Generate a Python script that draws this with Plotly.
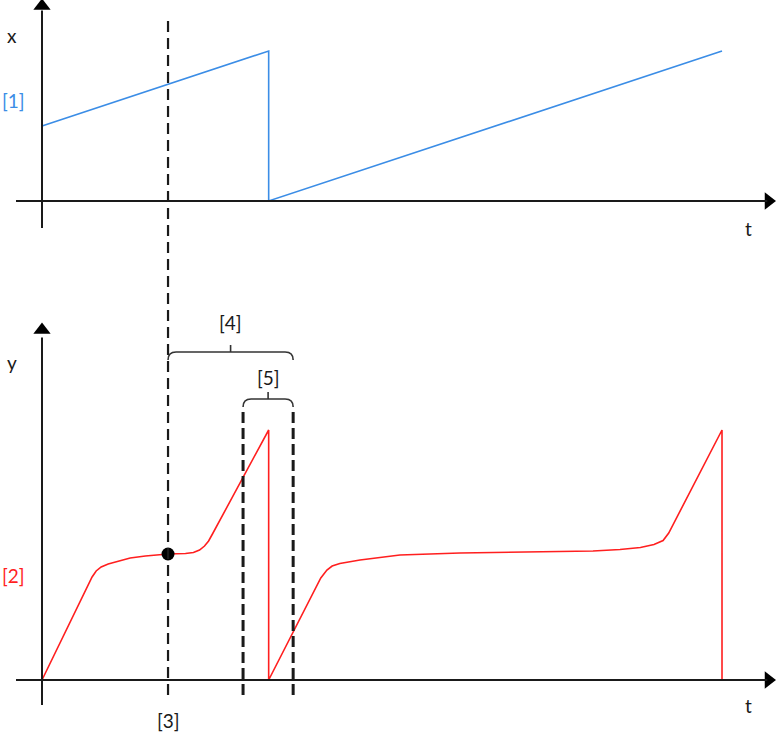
import plotly.graph_objects as go

# ---------------- data ----------------
# top panel: sawtooth x(t)
t_top = [0.0, 1.0, 1.0, 3.0]
x_top = [0.5, 1.0, 0.0, 1.0]

# bottom panel: response y(t)
t_bot = [0.0, 0.221, 0.239, 0.261, 0.292, 0.336, 0.389, 0.456, 0.556, 0.633, 0.668,
         0.695, 0.717, 0.735, 0.752, 1.0, 1.0,
         1.230, 1.257, 1.280, 1.314, 1.403, 1.579, 1.844, 2.285, 2.431,
         2.550, 2.640, 2.700, 2.740, 2.765, 3.0, 3.0]
y_bot = [0.0, 0.412, 0.436, 0.452, 0.464, 0.476, 0.488, 0.496, 0.504, 0.506, 0.510,
         0.520, 0.536, 0.556, 0.584, 1.0, 0.0,
         0.408, 0.440, 0.456, 0.466, 0.480, 0.500, 0.508, 0.512, 0.516,
         0.522, 0.530, 0.542, 0.558, 0.588, 1.0, 0.0]

t_sample = 0.556
y_sample = 0.504
t_win = [0.887, 1.108]

labels = {"x": "x", "y": "y", "t": "t", "s1": "[1]", "s2": "[2]",
          "m3": "[3]", "m4": "[4]", "m5": "[5]"}

BLUE = "#3b8de6"
RED = "#ff1f1f"
INK = "#1a1a1a"
FONT = "Lato"

# pixel scales (for styling offsets only)
PX_T = 226.67   # px per t unit
PX_Y1 = 150.0   # px per top unit
PX_Y2 = 250.0   # px per bottom unit

fig = go.Figure()

fig.add_trace(go.Scatter(x=t_top, y=x_top, mode="lines", yaxis="y",
                         line=dict(color=BLUE, width=1.6), hoverinfo="skip"))
fig.add_trace(go.Scatter(x=t_bot, y=y_bot, mode="lines", yaxis="y2",
                         line=dict(color=RED, width=1.6), hoverinfo="skip"))
fig.add_trace(go.Scatter(x=[t_sample], y=[y_sample], mode="markers", yaxis="y2",
                         marker=dict(color="black", size=13), hoverinfo="skip"))

shapes = []
t_left = -26 / PX_T
t_right = 3.20
# top axes
shapes.append(dict(type="line", xref="x", yref="y", x0=t_left, x1=t_right, y0=0, y1=0,
                   line=dict(color=INK, width=2)))
shapes.append(dict(type="line", xref="x", yref="y", x0=0, x1=0, y0=-27 / PX_Y1, y1=1.27,
                   line=dict(color=INK, width=2)))
# bottom axes
shapes.append(dict(type="line", xref="x", yref="y2", x0=t_left, x1=t_right, y0=0, y1=0,
                   line=dict(color=INK, width=2)))
shapes.append(dict(type="line", xref="x", yref="y2", x0=0, x1=0, y0=-25 / PX_Y2, y1=1.37,
                   line=dict(color=INK, width=2)))

# dashed sample line through both panels
shapes.append(dict(type="line", xref="x", yref="y2", x0=t_sample, x1=t_sample,
                   y0=-15 / PX_Y2, y1=662 / PX_Y2,
                   line=dict(color=INK, width=2.2, dash="11px,6px")))
# window dashed lines
b5_top = 281 / PX_Y2
for tw in t_win:
    shapes.append(dict(type="line", xref="x", yref="y2", x0=tw, x1=tw,
                       y0=-15 / PX_Y2, y1=b5_top - 8 / PX_Y2,
                       line=dict(color=INK, width=3, dash="11px,5px")))

def bracket(ta, tb, ytop, drop_px=8, r_px=8, tick_px=7):
    rx = r_px / PX_T
    yd = ytop - drop_px / PX_Y2
    tm = (ta + tb) / 2
    path = (f"M {ta},{yd} Q {ta},{ytop} {ta + rx},{ytop} L {tb - rx},{ytop} "
            f"Q {tb},{ytop} {tb},{yd} M {tm},{ytop} L {tm},{ytop + tick_px / PX_Y2}")
    return dict(type="path", xref="x", yref="y2", path=path,
                line=dict(color="#333333", width=1.6))

b4_top = 328 / PX_Y2
shapes.append(bracket(t_sample, t_win[1], b4_top, drop_px=8))
shapes.append(bracket(t_win[0], t_win[1], b5_top, drop_px=8))

# arrowheads
fig.add_trace(go.Scatter(x=[3.205, 0], y=[0, 1.30], mode="markers", yaxis="y",
                         marker=dict(symbol=["triangle-right", "triangle-up"], size=15,
                                     color="black"), hoverinfo="skip"))
fig.add_trace(go.Scatter(x=[3.205, 0], y=[0, 1.40], mode="markers", yaxis="y2",
                         marker=dict(symbol=["triangle-right", "triangle-up"], size=15,
                                     color="black"), hoverinfo="skip"))

ann = []
def txt(x, y, s, yref, color=INK, size=19):
    ann.append(dict(x=x, y=y, xref="x", yref=yref, text=s, showarrow=False,
                    font=dict(family=FONT, size=size, color=color)))

txt(-30 / PX_T, 166 / PX_Y1, labels["x"], "y")
txt(-29 / PX_T, 101 / PX_Y1, labels["s1"], "y", color=BLUE)
txt(706 / PX_T, -27 / PX_Y1, labels["t"], "y")
txt(-30 / PX_T, 318 / PX_Y2, labels["y"], "y2")
txt(-29 / PX_T, 105 / PX_Y2, labels["s2"], "y2", color=RED)
txt(706 / PX_T, -25 / PX_Y2, labels["t"], "y2")
txt(t_sample, -40 / PX_Y2, labels["m3"], "y2")
txt((t_sample + t_win[1]) / 2, 358 / PX_Y2, labels["m4"], "y2")
txt((t_win[0] + t_win[1]) / 2, 303 / PX_Y2, labels["m5"], "y2")

fig.update_layout(
    width=778, height=734,
    margin=dict(l=0, r=0, t=0, b=0),
    paper_bgcolor="white", plot_bgcolor="white",
    showlegend=False,
    shapes=shapes, annotations=ann,
    xaxis=dict(range=[-42 / PX_T, (778 - 42) / PX_T], visible=False, fixedrange=True),
    yaxis=dict(range=[(201 - 734) / PX_Y1, 201 / PX_Y1], visible=False,
               fixedrange=True, domain=[0, 1]),
    yaxis2=dict(range=[(680 - 734) / PX_Y2, 680 / PX_Y2], visible=False,
                fixedrange=True, overlaying="y", domain=[0, 1]),
)

fig.write_html("out.html", config={"displayModeBar": False},
               post_script="document.body.style.margin='0px';document.body.style.overflow='hidden';")
